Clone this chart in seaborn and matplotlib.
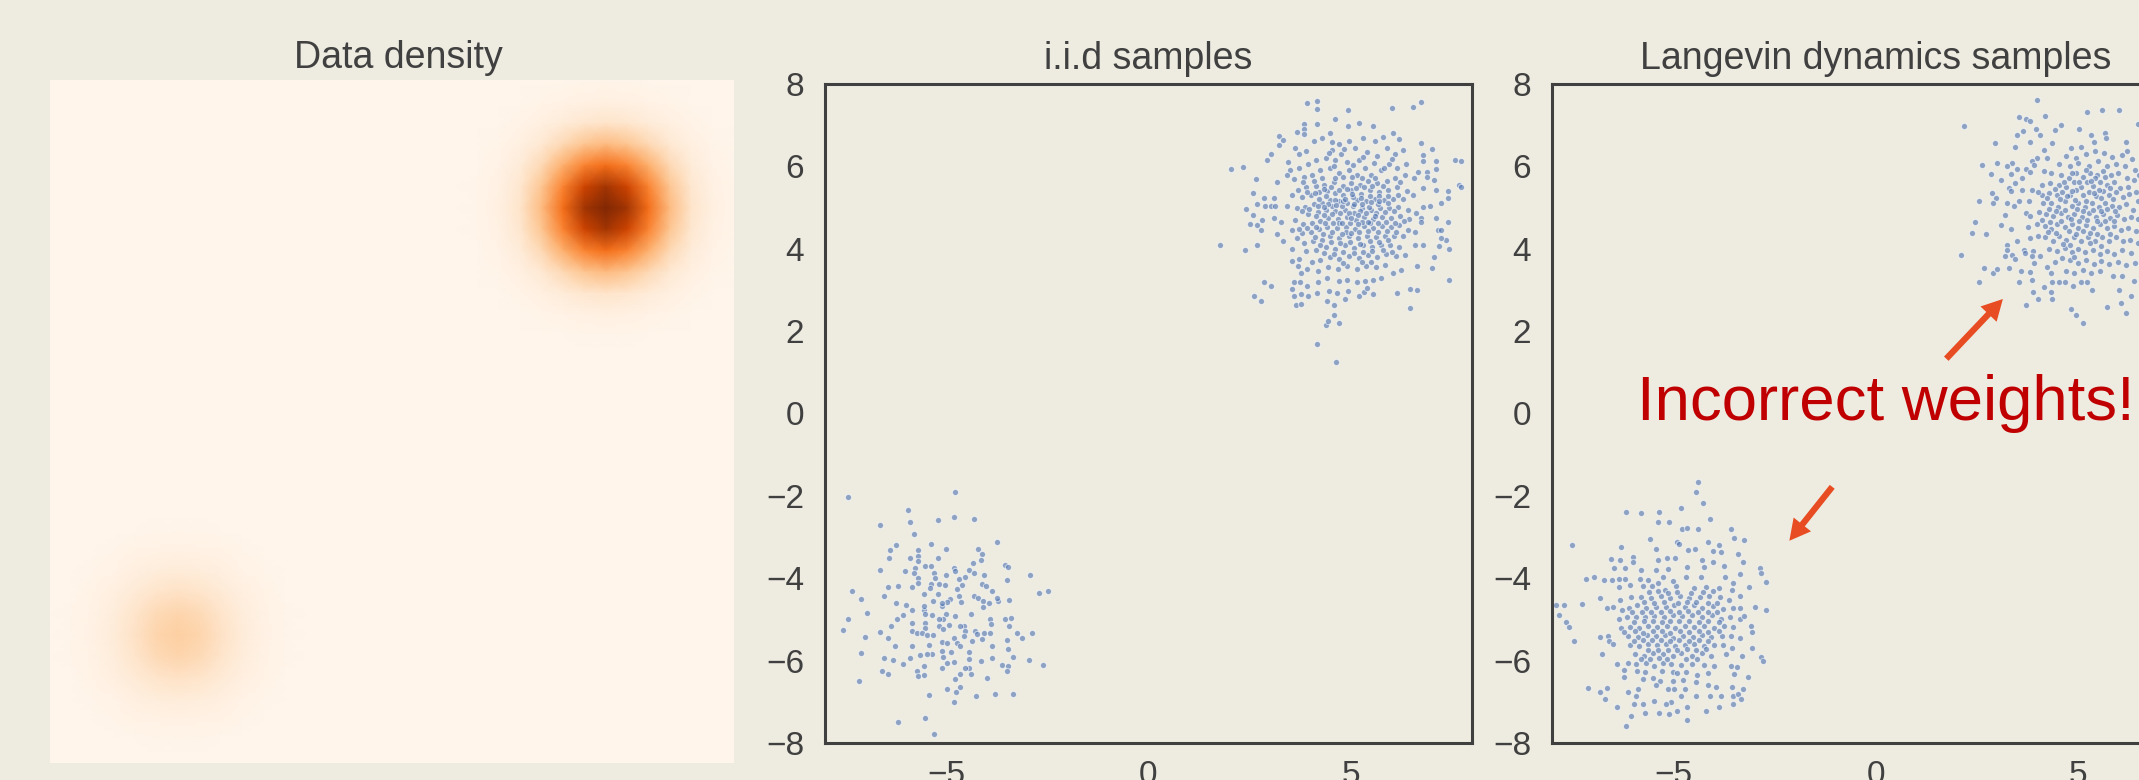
#!/usr/bin/python3
# -*- coding:utf-8 -*-
import numpy as np
import pandas as pd
import seaborn as sns
import matplotlib.pyplot as plt

# ---------------------data--------------------- #
# density peak upper right, rows/cols every 0.5 units around (5, 5)
density_upper = [
    [.000, .001, .002, .004, .007, .010, .011, .010, .007, .004, .002, .001, .000],
    [.001, .002, .006, .014, .027, .039, .044, .039, .027, .014, .006, .002, .001],
    [.002, .006, .018, .044, .082, .119, .135, .119, .082, .044, .018, .006, .002],
    [.004, .014, .044, .105, .197, .287, .325, .287, .197, .105, .044, .014, .004],
    [.007, .027, .082, .197, .368, .535, .607, .535, .368, .197, .082, .027, .007],
    [.010, .039, .119, .287, .535, .779, .883, .779, .535, .287, .119, .039, .010],
    [.011, .044, .135, .325, .607, .883, 1.00, .883, .607, .325, .135, .044, .011],
    [.010, .039, .119, .287, .535, .779, .883, .779, .535, .287, .119, .039, .010],
    [.007, .027, .082, .197, .368, .535, .607, .535, .368, .197, .082, .027, .007],
    [.004, .014, .044, .105, .197, .287, .325, .287, .197, .105, .044, .014, .004],
    [.002, .006, .018, .044, .082, .119, .135, .119, .082, .044, .018, .006, .002],
    [.001, .002, .006, .014, .027, .039, .044, .039, .027, .014, .006, .002, .001],
    [.000, .001, .002, .004, .007, .010, .011, .010, .007, .004, .002, .001, .000],
]
# density peak lower left, around (-5, -5)
density_lower = [
    [.000, .001, .004, .007, .010, .011, .010, .007, .004, .001, .000],
    [.001, .005, .011, .021, .030, .034, .030, .021, .011, .005, .001],
    [.004, .011, .026, .049, .072, .081, .072, .049, .026, .011, .004],
    [.007, .021, .049, .092, .134, .152, .134, .092, .049, .021, .007],
    [.010, .030, .072, .134, .195, .221, .195, .134, .072, .030, .010],
    [.011, .034, .081, .152, .221, .250, .221, .152, .081, .034, .011],
    [.010, .030, .072, .134, .195, .221, .195, .134, .072, .030, .010],
    [.007, .021, .049, .092, .134, .152, .134, .092, .049, .021, .007],
    [.004, .011, .026, .049, .072, .081, .072, .049, .026, .011, .004],
    [.001, .005, .011, .021, .030, .034, .030, .021, .011, .005, .001],
    [.000, .001, .004, .007, .010, .011, .010, .007, .004, .001, .000],
]

iid_upper = [
    (3.93,7.53),(4.16,7.58),(4.16,7.39),(4.93,7.37),(6.02,7.41),(6.54,7.45),(6.74,7.57),(4.60,7.14),(4.93,6.98),(5.20,7.06),
    (5.55,6.98),(4.16,7.02),(3.85,7.02),(3.85,6.90),(3.85,6.79),(3.68,6.84),(3.22,6.74),(3.22,6.52),(3.33,6.64),(3.04,6.30),
    (2.93,6.16),(7.58,6.16),(7.74,6.12),(7.69,5.55),(7.74,5.50),(7.41,5.39),(7.40,5.23),(7.23,5.12),(6.97,5.04),(6.79,5.01),
    (7.11,5.43),(7.11,5.94),(7.11,6.12),(7.00,6.41),(6.74,6.56),(6.80,6.28),(6.79,6.12),(6.67,5.87),(6.89,5.87),(6.89,5.75),
    (7.07,5.66),(6.78,5.47),(6.57,5.71),(7.11,4.75),(6.74,4.75),(6.74,4.66),(7.41,4.66),(7.15,4.46),(7.23,4.46),(7.36,4.22),
    (7.23,4.26),(7.44,4.00),(7.19,4.06),(6.79,4.10),(6.59,4.10),(7.05,3.80),(7.00,3.54),(6.64,3.58),(7.44,3.23),(6.63,3.01),
    (6.46,3.03),(6.14,2.93),(6.46,2.55),(4.63,1.26),(4.16,1.69),(4.71,2.20),(4.38,2.15),(4.44,2.25),(4.59,2.38),(4.59,2.63),
    (4.42,2.73),(4.85,2.77),(2.60,2.85),(2.77,2.73),(2.85,3.19),(3.03,3.09),(3.55,3.03),(3.60,3.19),(3.74,3.19),(3.91,3.09),
    (3.60,2.85),(3.76,2.89),(3.94,2.85),(3.64,2.63),(3.76,2.67),(4.16,2.93),(4.46,2.97),(4.67,2.93),(4.93,2.98),(5.21,2.85),
    (5.33,2.95),(5.41,3.05),(5.55,2.89),(1.78,4.10),(2.38,3.96),(2.69,4.10),(2.04,5.94),(2.33,5.98),(2.65,5.69),(2.59,5.35),
    (2.85,5.23),(3.10,5.23),(2.69,5.08),(2.89,5.04),(3.02,5.04),(3.14,5.04),(2.42,4.96),(2.59,4.83),(2.81,4.70),(2.52,4.61),
    (2.69,4.58),(2.77,4.45),(3.18,4.37),(3.33,4.20),(3.18,5.63),(3.43,5.04),(3.10,4.75),(3.27,4.66),(3.55,3.99),(3.55,3.70),
    (3.72,3.74),(3.70,3.58),(3.76,3.41),(3.45,6.10),(3.50,5.90),(3.42,5.78),(3.62,6.45),(3.72,6.30),(3.90,6.38),(4.10,6.62),
    (4.30,6.70),(4.50,6.80),(4.70,6.55),(4.55,6.40),(4.75,6.30),(4.95,6.62),(5.10,6.45),(5.30,6.70),(5.60,6.62),(5.80,6.72),
    (6.05,6.80),(6.20,6.66),(6.30,6.40),(6.10,6.30),(5.90,6.45),(5.65,6.25),(5.40,6.35),(5.20,6.15),(4.90,6.10),(4.62,6.15),
    (4.40,6.20),(4.15,6.15),(3.95,6.05),(3.72,5.95),(3.60,5.70),(3.85,5.75),(4.05,5.80),(4.25,5.90),(4.50,5.95),(4.72,5.85),
    (4.95,5.90),(5.15,5.80),(5.35,5.95),(5.50,5.80),(5.75,5.92),(5.95,6.05),(6.15,5.95),(6.38,6.05),(6.35,5.80),(6.10,5.72),
    (5.90,5.65),(5.65,5.60),(5.42,5.65),(5.22,5.55),(5.00,5.60),(4.80,5.52),(4.58,5.62),(4.35,5.55),(4.15,5.52),(3.90,5.50),
    (3.70,5.42),(3.55,5.30),(3.80,5.25),(4.02,5.30),(4.22,5.38),(4.42,5.40),(4.62,5.35),(4.82,5.30),(5.02,5.42),(5.25,5.33),
    (5.48,5.42),(5.70,5.38),(5.92,5.42),(6.15,5.50),(6.40,5.40),(6.55,5.30),(6.30,5.22),(6.05,5.20),(5.82,5.18),(5.60,5.22),
    (5.38,5.15),(5.15,5.18),(4.92,5.12),(4.70,5.15),(4.50,5.18),(4.30,5.12),(4.10,5.08),(3.88,5.02),(3.68,4.98),(3.95,4.85),
    (4.20,4.90),(4.40,4.95),(4.62,4.92),(4.85,4.95),(5.08,4.88),(5.28,4.98),(5.50,4.95),(5.72,4.98),(5.95,5.00),(6.18,5.02),
    (6.42,4.95),(6.62,4.88),(6.45,4.72),(6.22,4.80),(6.00,4.75),(5.78,4.78),(5.55,4.72),(5.32,4.78),(5.12,4.70),(4.90,4.76),
    (4.68,4.72),(4.45,4.75),(4.25,4.68),(4.05,4.62),(3.82,4.60),(3.62,4.70),(3.55,4.45),(3.80,4.38),(4.02,4.40),(4.22,4.48),
    (4.42,4.52),(4.65,4.50),(4.88,4.52),(5.10,4.48),(5.32,4.55),(5.55,4.50),(5.78,4.55),(6.00,4.52),(6.20,4.58),(6.42,4.45),
    (6.60,4.40),(6.30,4.30),(6.08,4.30),(5.85,4.32),(5.62,4.28),(5.40,4.32),(5.18,4.25),(4.95,4.30),(4.72,4.25),(4.50,4.30),
    (4.30,4.22),(4.08,4.18),(3.85,4.15),(3.68,4.25),(3.90,3.95),(4.15,3.98),(4.40,4.05),(4.62,4.00),(4.85,4.08),(5.08,4.02),
    (5.30,4.08),(5.52,4.05),(5.75,4.10),(5.98,4.08),(6.20,4.05),(6.35,3.85),(6.12,3.82),(5.88,3.88),(5.65,3.80),(5.42,3.85),
    (5.20,3.78),(4.95,3.82),(4.72,3.75),(4.48,3.80),(4.25,3.72),(4.05,3.68),(3.92,3.52),(4.20,3.45),(4.45,3.55),(4.68,3.50),
    (4.90,3.58),(5.15,3.52),(5.38,3.58),(5.62,3.55),(5.85,3.60),(6.25,3.48),(6.05,3.40),(5.75,3.30),(5.55,3.25),(5.35,3.22),
    (5.15,3.20),(4.92,3.25),(4.70,3.22),(4.42,3.30),(4.20,3.20),(5.05,5.05),(4.98,4.62),(5.22,4.92),(4.78,5.05),(5.45,5.02),
    (4.55,5.05),(5.62,4.88),(5.05,5.25),(4.88,4.40),(5.28,4.65),(4.72,4.62),(4.38,5.28),(5.48,4.62),(5.68,5.08),(4.62,5.72),
    # denser middle of the upper cloud
    (4.47,6.33),(4.83,6.41),(4.59,6.02),(4.81,5.74),(5.06,6.03),(5.31,6.22),(5.57,6.08),(5.82,5.97),(6.03,6.17),(6.23,5.63),
    (5.03,5.73),(5.27,5.71),(5.59,5.72),(5.79,5.53),(5.53,5.53),(5.33,5.49),(5.12,5.47),(4.91,5.46),(4.71,5.43),(4.52,5.49),
    (4.28,5.72),(4.09,5.64),(4.33,5.46),(4.12,5.36),(3.93,5.37),(3.81,5.62),(4.21,5.21),(4.43,5.09),(4.61,5.19),(4.81,5.17),
    (5.03,5.32),(5.26,5.24),(5.47,5.29),(5.70,5.27),(5.93,5.29),(6.17,5.31),(5.92,5.11),(5.71,5.17),(5.49,5.13),(5.27,5.09),
    (5.09,5.09),(4.86,5.22),(4.63,5.07),(4.34,5.01),(4.19,5.03),(3.98,4.97),(3.79,4.91),(4.13,4.79),(4.33,4.83),(4.53,4.84),
    (4.74,4.86),(4.96,4.87),(5.17,4.82),(5.38,4.87),(5.61,4.79),(5.84,4.89),(6.07,4.91),(6.31,4.68),(6.09,4.62),(5.87,4.66),
    (5.67,4.62),(5.43,4.64),(5.19,4.59),(5.02,4.74),(4.79,4.63),(4.56,4.63),(4.36,4.62),(4.15,4.54),(3.93,4.51),(3.72,4.49),
    (4.12,4.29),(4.32,4.37),(4.53,4.41),(4.78,4.37),(5.01,4.39),(5.21,4.41),(5.43,4.43),(5.67,4.41),(5.89,4.43),(6.11,4.41),
    (4.25,4.09),(4.51,4.16),(4.74,4.13),(4.98,4.17),(5.22,4.11),(5.47,4.19),(5.69,4.17),(5.92,4.21),(4.35,3.89),(4.58,3.87),
    (4.82,3.93),(5.07,3.89),(5.31,3.93),(5.53,3.95),(5.79,3.97),(6.02,3.93),(4.82,3.66),(5.28,3.67),(5.51,3.69),(4.55,6.58),
]

iid_lower = [
    (-7.42,-2.03),(-4.78,-1.91),(-5.95,-2.34),(-6.64,-2.71),(-5.89,-2.63),(-5.21,-2.59),(-4.82,-2.51),(-4.31,-2.55),(-5.79,-2.92),(-3.74,-3.11),
    (-6.25,-3.20),(-6.39,-3.32),(-6.41,-3.50),(-6.64,-3.80),(-5.37,-3.18),(-5.02,-3.28),(-5.69,-3.32),(-5.69,-3.45),(-5.69,-3.57),(-5.89,-3.50),
    (-5.21,-3.50),(-4.21,-3.28),(-4.12,-3.42),(-4.13,-3.55),(-4.35,-3.63),(-3.54,-3.68),(-3.47,-3.72),(-2.93,-3.92),(-3.49,-4.05),(-2.71,-4.35),
    (-2.49,-4.30),(-7.34,-4.30),(-7.11,-4.51),(-6.95,-4.84),(-7.42,-5.00),(-7.55,-5.26),(-7.02,-5.42),(-7.11,-5.82),(-6.64,-5.30),(-6.45,-5.46),
    (-6.55,-4.43),(-6.43,-4.22),(-6.20,-4.19),(-6.03,-3.83),(-5.85,-4.22),(-5.56,-4.39),(-5.21,-4.39),(-6.25,-4.61),(-5.99,-4.66),(-6.08,-4.90),
    (-6.22,-5.00),(-6.37,-5.16),(-5.85,-4.78),(-5.56,-4.78),(-5.56,-4.67),(-5.52,-4.88),(-5.85,-5.08),(-5.85,-5.28),(-5.52,-5.08),(-5.52,-5.20),
    (-5.73,-5.34),(-5.60,-5.32),(-5.48,-5.38),(-5.34,-5.38),(-5.36,-4.90),(-5.34,-4.55),(-5.77,-3.75),(-5.81,-3.87),(-5.69,-3.99),(-5.69,-4.11),
    (-5.52,-3.71),(-5.37,-3.71),(-5.31,-3.87),(-5.29,-3.99),(-5.37,-4.15),(-5.40,-4.23),(-5.19,-4.15),(-5.04,-4.17),(-5.02,-3.92),(-4.82,-3.75),
    (-4.79,-3.83),(-4.69,-4.03),(-4.55,-3.96),(-4.61,-4.17),(-4.74,-4.27),(-4.69,-4.43),(-4.63,-4.58),(-4.90,-4.51),(-4.98,-4.58),(-5.11,-4.67),
    (-5.11,-4.59),(-4.32,-4.43),(-4.21,-4.47),(-4.09,-4.55),(-4.09,-4.71),(-3.95,-4.61),(-3.72,-4.55),(-3.74,-4.47),(-3.44,-4.52),(-4.07,-3.92),
    (-4.12,-4.15),(-4.02,-4.19),(-3.87,-4.30),(-4.45,-3.79),(-4.32,-3.88),(-4.40,-4.88),(-3.91,-5.00),(-3.89,-5.12),(-3.55,-5.00),(-3.40,-4.96),
    (-3.44,-5.16),(-3.25,-5.32),(-3.12,-5.44),(-2.88,-5.34),(-3.51,-5.51),(-3.48,-5.72),(-3.35,-5.90),(-2.96,-5.99),(-2.61,-6.11),(-3.62,-6.11),
    (-3.47,-6.13),(-3.49,-6.25),(-3.87,-5.94),(-4.13,-6.02),(-3.87,-5.64),(-3.99,-6.42),(-3.79,-6.80),(-3.36,-6.81),(-4.26,-6.85),(-4.65,-6.63),
    (-4.76,-6.75),(-4.82,-7.01),(-5.42,-6.84),(-4.99,-6.68),(-4.78,-6.45),(-4.65,-6.33),(-4.39,-6.33),(-4.45,-6.17),(-4.53,-6.17),(-4.82,-6.03),
    (-4.98,-6.05),(-5.11,-6.17),(-4.88,-5.80),(-5.11,-5.76),(-5.07,-5.92),(-5.11,-5.55),(-4.98,-5.56),(-4.82,-5.46),(-4.74,-5.56),(-4.65,-5.64),
    (-4.45,-5.80),(-4.43,-5.97),(-4.57,-5.16),(-4.65,-5.16),(-4.53,-5.28),(-4.57,-5.40),(-4.36,-5.52),(-4.28,-5.28),(-4.12,-5.48),(-4.24,-5.36),
    (-4.07,-5.32),(-3.91,-5.34),(-5.02,-4.88),(-5.09,-5.00),(-4.79,-4.92),(-4.94,-5.14),(-5.19,-5.00),(-5.19,-5.16),(-5.07,-5.24),(-5.85,-5.64),
    (-5.44,-5.63),(-5.36,-5.84),(-5.48,-5.84),(-5.64,-5.86),(-5.89,-5.94),(-6.08,-6.07),(-6.33,-5.98),(-6.55,-5.94),(-6.60,-6.25),(-6.43,-6.33),
    (-5.73,-6.25),(-5.56,-6.14),(-5.69,-6.38),(-5.54,-6.34),(-7.17,-6.50),(-6.20,-7.50),(-5.52,-7.40),(-5.30,-7.78),(-6.28,-5.64),
]

langevin_upper = [
    (4.00,7.62),(5.24,7.31),(5.59,7.37),(6.02,7.37),(4.20,7.23),(3.54,7.20),(3.73,7.16),(3.82,7.11),(2.20,6.98),(3.98,6.90),
    (4.06,6.76),(4.45,6.88),(4.59,7.00),(5.03,6.90),(3.65,6.87),(3.50,6.76),(3.81,6.60),(2.95,6.56),(3.46,6.48),(4.37,6.56),
    (5.32,6.76),(5.67,6.80),(5.69,6.68),(5.40,6.60),(6.19,6.60),(6.49,7.03),(4.16,6.40),(4.83,6.44),(5.09,6.46),(6.23,6.38),
    (4.25,6.20),(4.00,6.20),(3.87,6.12),(3.92,6.04),(2.64,6.04),(3.01,6.09),(3.38,6.08),(3.25,6.01),(3.50,5.94),(3.71,5.94),
    (2.86,5.82),(3.34,5.82),(3.11,5.66),(3.63,5.71),(3.46,5.59),(3.83,5.87),(4.16,5.89),(4.33,5.85),(2.88,5.35),(2.97,5.23),
    (2.91,5.11),(3.25,5.12),(3.42,5.04),(2.55,5.17),(3.30,5.47),(3.34,5.39),(3.63,5.43),(3.87,5.43),(3.54,5.15),(3.79,5.15),
    (3.21,4.83),(3.71,4.87),(3.83,4.79),(4.12,5.31),(2.45,4.65),(2.39,4.38),(2.73,4.36),(3.11,4.57),(3.34,4.48),(3.77,4.53),
    (3.81,4.26),(3.50,4.18),(2.12,3.84),(3.24,4.10),(3.24,3.98),(3.21,3.82),(3.38,3.86),(3.46,3.75),(2.68,3.54),(2.90,3.41),
    (3.01,3.50),(3.30,3.54),(2.55,3.19),(3.56,3.19),(3.59,3.45),(3.83,3.43),(3.87,3.25),(4.25,3.55),(4.33,3.41),(3.90,2.95),
    (4.02,2.77),(4.16,3.07),(4.33,2.95),(4.37,2.78),(3.73,2.63),(4.37,3.19),(4.54,3.19),(4.68,3.19),(4.89,3.09),(5.07,3.19),
    (5.22,3.19),(5.36,3.01),(4.84,2.53),(4.97,2.38),(5.14,2.20),(5.72,2.59),(6.02,3.01),(6.06,2.69),(6.20,2.43),(6.31,2.85),
    (5.88,3.33),(3.67,3.98),(3.90,3.94),(3.69,3.90),(3.87,3.82),(4.08,3.82),(3.92,3.66),(4.45,3.68),(4.60,3.78),(4.72,6.25),
    (4.95,6.20),(5.20,6.30),(5.42,6.38),(5.65,6.32),(5.85,6.22),(6.10,6.28),(6.35,6.18),(4.55,6.05),(4.80,6.02),(5.00,6.08),
    (5.28,6.02),(5.50,6.12),(5.72,6.02),(5.95,6.05),(6.18,6.00),(6.42,5.90),(4.58,5.80),(4.78,5.72),(4.95,5.85),(5.12,5.75),
    (5.30,5.85),(5.48,5.78),(5.62,5.88),(5.82,5.78),(6.00,5.85),(6.22,5.72),(6.40,5.68),(6.52,5.80),(4.32,5.60),(4.55,5.55),
    (4.72,5.50),(4.90,5.62),(5.08,5.50),(5.22,5.62),(5.38,5.52),(5.55,5.62),(5.72,5.55),(5.90,5.62),(6.05,5.48),(6.25,5.50),
    (6.45,5.38),(4.12,5.55),(4.02,5.38),(4.30,5.35),(4.48,5.30),(4.62,5.38),(4.80,5.30),(4.95,5.42),(5.12,5.30),(5.28,5.38),
    (5.45,5.28),(5.62,5.40),(5.78,5.30),(5.95,5.38),(6.12,5.25),(6.28,5.32),(6.48,5.15),(4.15,5.12),(4.35,5.10),(4.52,5.02),
    (4.68,5.15),(4.85,5.05),(5.02,5.12),(5.18,5.02),(5.35,5.12),(5.52,5.02),(5.68,5.12),(5.85,5.05),(6.02,5.02),(6.20,5.08),
    (6.38,4.95),(4.05,4.90),(4.22,4.85),(4.40,4.80),(4.58,4.88),(4.75,4.78),(4.92,4.85),(5.10,4.78),(5.28,4.88),(5.45,4.78),
    (5.62,4.85),(5.80,4.75),(5.98,4.82),(6.15,4.72),(6.32,4.78),(6.50,4.72),(4.00,4.60),(4.18,4.55),(4.35,4.48),(4.50,4.60),
    (4.68,4.52),(4.85,4.60),(5.02,4.50),(5.20,4.58),(5.38,4.50),(5.55,4.60),(5.72,4.50),(5.90,4.55),(6.08,4.45),(6.25,4.50),
    (6.45,4.42),(4.02,4.32),(4.20,4.28),(4.40,4.20),(4.55,4.30),(4.72,4.22),(4.90,4.28),(5.08,4.18),(5.25,4.28),(5.42,4.18),
    (5.60,4.28),(5.78,4.20),(5.95,4.28),(6.12,4.18),(6.30,4.22),(6.50,4.15),(4.30,4.00),(4.50,3.95),(4.68,4.02),(4.85,3.92),
    (5.02,4.00),(5.18,3.92),(5.38,3.98),(5.55,3.88),(5.72,3.95),(5.90,3.88),(6.10,3.98),(6.32,3.90),(4.82,3.72),(5.00,3.65),
    (5.20,3.72),(5.40,3.62),(5.58,3.70),(5.78,3.62),(6.00,3.68),(6.20,3.60),(6.42,3.65),(4.70,3.45),(4.92,3.42),(5.12,3.48),
    (5.32,3.40),(5.55,3.45),(6.10,3.35),(6.40,3.22),
    # denser middle of the upper cloud
    (4.87,5.83),(5.21,5.91),(5.43,5.71),(5.68,5.73),(4.43,5.44),(4.67,5.62),(4.86,5.41),(5.03,5.63),(5.33,5.64),(5.53,5.43),
    (5.79,5.47),(4.24,5.23),(4.57,5.21),(4.73,5.27),(4.93,5.19),(5.21,5.15),(5.41,5.36),(5.58,5.23),(5.87,5.21),(4.29,4.97),
    (4.47,4.91),(4.69,4.94),(4.98,4.97),(5.13,4.91),(5.37,4.95),(5.57,4.91),(5.73,4.97),(5.93,4.92),(4.12,4.71),(4.31,4.66),
    (4.59,4.68),(4.83,4.72),(5.03,4.67),(5.22,4.71),(5.48,4.68),(5.67,4.68),(5.89,4.67),(4.27,4.41),(4.47,4.39),(4.78,4.42),
    (4.97,4.37),(5.13,4.42),(5.31,4.38),(5.48,4.37),(5.81,4.37),(4.63,4.11),(4.81,4.09),(5.31,4.13),(5.58,4.07),(4.92,3.79),
]

langevin_lower = [
    (-4.40,-1.66),(-4.26,-2.17),(-6.17,-2.38),(-5.79,-2.42),(-5.36,-2.38),(-4.82,-2.29),(-5.39,-2.63),(-5.11,-2.63),(-4.10,-2.55),(-4.79,-2.81),
    (-4.67,-2.79),(-4.40,-2.81),(-3.58,-2.80),(-3.50,-3.02),(-3.26,-3.06),(-7.51,-3.19),(-6.30,-3.24),(-5.57,-3.05),(-4.92,-3.12),(-4.85,-3.16),
    (-4.13,-3.13),(-3.86,-3.19),(-3.40,-3.40),(-3.28,-3.60),(-5.42,-3.28),(-4.64,-3.32),(-4.46,-3.30),(-4.03,-3.35),(-3.83,-3.37),(-6.55,-3.53),
    (-6.33,-3.55),(-6.00,-3.48),(-6.00,-3.60),(-5.37,-3.55),(-5.15,-3.51),(-4.97,-3.52),(-4.30,-3.56),(-4.02,-3.60),(-2.85,-3.74),(-2.84,-3.88),
    (-6.47,-3.75),(-6.19,-3.75),(-5.80,-3.79),(-5.43,-3.79),(-5.12,-3.77),(-4.65,-3.72),(-4.24,-3.72),(-3.74,-3.70),(-3.36,-3.90),(-2.72,-4.10),
    (-7.17,-4.02),(-6.95,-3.97),(-6.72,-4.05),(-6.52,-4.04),(-6.34,-4.03),(-6.20,-4.03),(-5.82,-4.01),(-5.63,-4.05),(-5.25,-3.97),(-4.68,-3.97),
    (-4.32,-3.98),(-3.73,-3.96),(-3.53,-4.12),(-3.13,-4.21),(-6.35,-4.22),(-6.08,-4.17),(-5.74,-4.18),(-5.52,-4.20),(-5.20,-4.28),(-4.93,-4.20),
    (-4.50,-4.24),(-4.18,-4.21),(-3.86,-4.24),(-3.55,-4.28),(-3.35,-4.43),(-6.82,-4.49),(-6.32,-4.52),(-6.05,-4.45),(-5.80,-4.45),(-5.56,-4.48),
    (-5.30,-4.44),(-5.08,-4.48),(-4.84,-4.43),(-4.62,-4.47),(-4.35,-4.45),(-4.12,-4.42),(-3.85,-4.46),(-3.63,-4.53),(-7.90,-4.65),(-7.70,-4.65),
    (-7.25,-4.63),(-6.65,-4.72),(-6.48,-4.70),(-6.28,-4.78),(-6.10,-4.72),(-5.90,-4.66),(-5.68,-4.72),(-5.42,-4.69),(-5.18,-4.70),(-4.98,-4.65),
    (-4.72,-4.70),(-4.50,-4.65),(-4.28,-4.72),(-4.02,-4.68),(-3.78,-4.75),(-3.52,-4.72),(-3.36,-4.72),(-2.97,-4.70),(-2.72,-4.78),(-7.82,-4.90),
    (-6.35,-4.98),(-6.15,-4.95),(-5.92,-4.93),(-5.70,-4.95),(-5.48,-4.92),(-5.22,-4.95),(-5.00,-4.90),(-4.78,-4.92),(-4.55,-4.90),(-4.30,-4.95),
    (-4.05,-4.90),(-3.82,-4.98),(-3.60,-4.95),(-3.36,-4.98),(-3.25,-4.92),(-7.65,-5.06),(-7.58,-5.18),(-6.30,-5.22),(-6.08,-5.18),(-5.85,-5.20),
    (-5.62,-5.15),(-5.40,-5.18),(-5.15,-5.15),(-4.96,-5.22),(-4.72,-5.15),(-4.48,-5.18),(-4.25,-5.15),(-4.00,-5.20),(-3.75,-5.15),(-3.52,-5.18),
    (-3.08,-5.15),(-3.06,-5.30),(-7.45,-5.52),(-6.82,-5.42),(-6.62,-5.40),(-6.60,-5.52),(-6.50,-5.60),(-6.12,-5.40),(-5.88,-5.42),(-5.65,-5.38),
    (-5.42,-5.40),(-5.20,-5.38),(-5.00,-5.45),(-4.76,-5.40),(-4.52,-5.42),(-4.30,-5.38),(-4.06,-5.42),(-3.80,-5.40),(-3.58,-5.40),(-3.35,-5.46),
    (-6.08,-5.62),(-5.85,-5.65),(-5.62,-5.60),(-5.40,-5.62),(-5.18,-5.60),(-4.95,-5.65),(-4.70,-5.62),(-4.48,-5.60),(-4.25,-5.65),(-4.00,-5.62),
    (-3.78,-5.62),(-3.55,-5.70),(-3.05,-5.70),(-6.77,-5.85),(-5.95,-5.85),(-5.72,-5.88),(-5.50,-5.82),(-5.25,-5.85),(-5.02,-5.88),(-4.80,-5.82),
    (-4.55,-5.88),(-4.30,-5.82),(-4.08,-5.88),(-3.70,-5.85),(-3.30,-5.88),(-2.83,-5.92),(-2.79,-6.00),(-6.40,-6.07),(-6.12,-6.05),(-5.92,-6.08),
    (-5.68,-6.05),(-5.48,-6.12),(-5.25,-6.05),(-5.05,-6.08),(-4.82,-6.10),(-4.55,-6.08),(-4.25,-6.10),(-4.00,-6.12),(-3.58,-6.12),(-3.42,-6.15),
    (-6.22,-6.22),(-5.90,-6.25),(-5.70,-6.28),(-5.28,-6.25),(-5.02,-6.28),(-4.90,-6.30),(-4.68,-6.28),(-4.42,-6.35),(-4.15,-6.30),(-3.50,-6.32),
    (-6.23,-6.40),(-5.75,-6.45),(-5.50,-6.42),(-5.32,-6.50),(-5.00,-6.50),(-4.75,-6.48),(-4.44,-6.52),(-3.15,-6.40),(-5.88,-6.68),(-5.42,-6.60),
    (-4.70,-6.70),(-4.15,-6.60),(-3.95,-6.65),(-3.55,-6.65),(-3.27,-6.70),(-7.12,-6.67),(-6.63,-6.67),(-6.82,-6.75),(-6.70,-6.93),(-6.12,-6.76),
    (-5.92,-6.85),(-5.13,-6.70),(-4.98,-6.70),(-4.82,-6.85),(-3.83,-6.85),(-3.52,-6.85),(-3.40,-6.80),(-3.32,-6.92),(-5.48,-6.98),(-5.05,-7.00),
    (-4.45,-6.85),(-4.10,-6.87),(-6.40,-7.13),(-5.96,-7.05),(-5.76,-7.05),(-5.18,-7.05),(-4.65,-7.12),(-3.88,-7.12),(-3.53,-7.06),(-5.70,-7.27),
    (-5.35,-7.28),(-4.18,-7.23),(-4.65,-7.43),(-6.17,-7.58),(-4.45,-1.90),(-5.10,-7.30),(-4.90,-7.22),(-6.05,-7.35),
    # denser middle of the lower cloud
    (-5.61,-4.33),(-5.37,-4.31),(-5.13,-4.37),(-4.92,-4.33),(-4.57,-4.37),(-4.27,-4.33),(-4.01,-4.31),(-5.73,-4.58),(-5.47,-4.59),(-5.22,-4.57),
    (-4.89,-4.61),(-4.67,-4.57),(-4.43,-4.58),(-4.15,-4.61),(-3.91,-4.59),(-6.01,-4.83),(-5.78,-4.81),(-5.55,-4.83),(-5.31,-4.81),(-5.07,-4.79),
    (-4.87,-4.83),(-4.63,-4.79),(-4.38,-4.81),(-4.14,-4.83),(-3.93,-4.81),(-5.97,-5.07),(-5.73,-5.04),(-5.51,-5.05),(-5.29,-5.07),(-5.08,-5.03),
    (-4.85,-5.05),(-4.62,-5.03),(-4.37,-5.07),(-4.14,-5.03),(-3.88,-5.07),(-6.21,-5.31),(-5.95,-5.29),(-5.74,-5.32),(-5.51,-5.29),(-5.28,-5.27),
    (-5.07,-5.33),(-4.84,-5.27),(-4.61,-5.31),(-4.37,-5.27),(-4.13,-5.31),(-3.87,-5.29),(-5.97,-5.53),(-5.75,-5.51),(-5.52,-5.49),(-5.31,-5.51),
    (-5.07,-5.53),(-4.86,-5.51),(-4.61,-5.53),(-4.36,-5.49),(-4.13,-5.53),(-5.63,-5.74),(-5.39,-5.73),(-5.13,-5.74),(-4.91,-5.73),(-4.67,-5.71),
    (-4.43,-5.74),(-4.19,-5.72),(-5.81,-5.97),(-5.57,-5.96),(-5.36,-5.94),(-5.15,-5.97),(-4.68,-5.96),(-4.41,-5.97),(-5.37,-4.11),(-5.01,-4.07),
]

point_size = 20
point_alpha = 0.6

# --------------------------set canvas-------------------------- #
sns.set_style("white")
plt.rcParams["font.family"] = ["Liberation Sans", "DejaVu Sans"]
paper = "#EEECE1"
ink = "#404040"
fig = plt.figure(figsize=(21.39, 7.80), dpi=100, facecolor=paper)


def px_axes(left, top, right, bottom):
    return fig.add_axes([left / 2139, 1 - bottom / 780,
                         (right - left) / 2139, (bottom - top) / 780])


# --------------------------density panel-------------------------- #
grid = np.zeros((33, 33))
grid[0:13, 20:33] = density_upper
grid[21:32, 1:12] = density_lower
ax1 = px_axes(50, 80, 734, 763)
sns.heatmap(pd.DataFrame(grid), ax=ax1, cmap="Oranges", vmin=0, vmax=1, cbar=False,
            xticklabels=False, yticklabels=False, shading="gouraud")
ax1.set_xlim(0, 32)
ax1.set_ylim(32, 0)
ax1.set_title("Data density", fontsize=27, color=ink, pad=9, x=0.51)


def sample_panel(ax, clusters, title):
    points = pd.DataFrame([p for c in clusters for p in c], columns=["x", "y"])
    sns.scatterplot(data=points, x="x", y="y", ax=ax, s=point_size, alpha=point_alpha,
                    color="#4c72b0", edgecolor="white", linewidth=0.8, legend=False)
    ax.set_xlim(-8, 8)
    ax.set_ylim(-8, 8)
    ax.set_xticks([-5, 0, 5])
    ax.set_yticks(range(-8, 9, 2))
    ax.set_xlabel("")
    ax.set_ylabel("")
    ax.set_facecolor(paper)
    ax.tick_params(labelsize=24, labelcolor=ink, length=0)
    ax.tick_params(axis="y", pad=15)
    ax.tick_params(axis="x", pad=12)
    for spine in ax.spines.values():
        spine.set_color(ink)
        spine.set_linewidth(2.2)
    ax.set_title(title, fontsize=27, color=ink, pad=11)


ax2 = px_axes(825, 84, 1472, 743)
sample_panel(ax2, [iid_upper, iid_lower], "i.i.d samples")
ax3 = px_axes(1552, 84, 2199, 743)
sample_panel(ax3, [langevin_upper, langevin_lower], "Langevin dynamics samples")

# --------------------------callout-------------------------- #
arrow = dict(facecolor="#E84C22", edgecolor="none", width=4.5, headwidth=16, headlength=15, shrink=0)
ax3.annotate("", xy=(3.15, 2.78), xytext=(1.75, 1.33), arrowprops=arrow)
ax3.annotate("", xy=(-2.13, -3.09), xytext=(-1.07, -1.78), arrowprops=arrow)
fig.text(1637 / 2139, 1 - 420 / 780, "Incorrect weights!", fontsize=45.7, color="#C00000")

fig.savefig("out.png", dpi=100, facecolor=paper)
